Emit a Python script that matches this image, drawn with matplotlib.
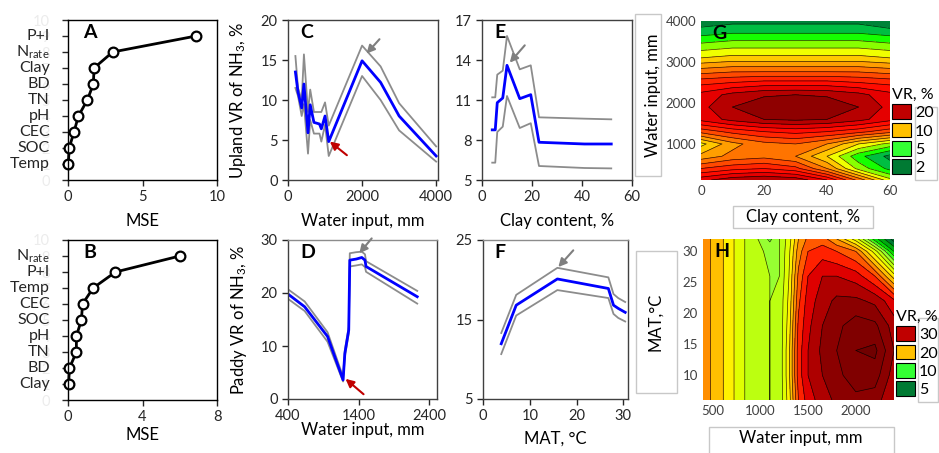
import numpy as np
import matplotlib
matplotlib.use('Agg')
import matplotlib.pyplot as plt
from matplotlib.colors import LinearSegmentedColormap, Normalize
from matplotlib.patches import Patch, Rectangle

plt.rcParams['font.family'] = ['Lato', 'DejaVu Sans']
plt.rcParams['mathtext.fontset'] = 'custom'
plt.rcParams['mathtext.rm'] = 'Lato'
plt.rcParams['mathtext.it'] = 'Lato:italic'

# ---- data ----
# A / B: variable importance (top to bottom)
a_labels = ['P+I', r'N$_{\mathrm{rate}}$', 'Clay', 'BD', 'TN', 'pH', 'CEC', 'SOC', 'Temp']
a_mse = [8.6, 3.0, 1.75, 1.7, 1.3, 0.7, 0.4, 0.08, 0.02]
b_labels = [r'N$_{\mathrm{rate}}$', 'P+I', 'Temp', 'CEC', 'SOC', 'pH', 'TN', 'BD', 'Clay']
b_mse = [6.0, 2.55, 1.35, 0.78, 0.72, 0.45, 0.45, 0.08, 0.03]

# C: upland VR vs water input
c_x = [200, 270, 370, 430, 540, 600, 700, 850, 900, 1000, 1100, 2000, 2500, 3000, 4000]
c_mid = [13.5, 11.0, 9.0, 12.0, 5.9, 9.4, 7.2, 7.0, 6.4, 8.0, 4.8, 14.9, 12.2, 8.0, 3.0]
c_hi = [15.5, 11.5, 10.0, 15.7, 8.5, 11.3, 8.5, 8.5, 8.5, 9.7, 6.8, 16.8, 14.2, 9.6, 4.2]
c_lo = [11.5, 10.5, 8.0, 9.5, 3.3, 7.5, 5.8, 5.8, 4.8, 6.9, 3.0, 13.0, 10.0, 6.2, 2.3]

# D: paddy VR vs water input
d_x = [400, 636, 960, 1180, 1205, 1260, 1275, 1365, 1445, 1490, 1505, 2230]
d_mid = [19.8, 17.4, 11.8, 3.6, 8.6, 13.0, 26.2, 26.4, 26.7, 26.2, 25.0, 19.3]
d_hi = [20.7, 18.4, 12.6, 4.2, 9.2, 13.6, 27.5, 27.7, 27.8, 27.3, 26.0, 20.4]
d_lo = [18.9, 16.6, 10.8, 3.3, 8.0, 12.4, 25.0, 25.2, 25.4, 24.9, 24.0, 18.0]

# E: upland VR vs clay content
e_x = [4.1, 5.3, 6.1, 8.3, 10.0, 15.1, 19.5, 22.8, 41.0, 51.7]
e_mid = [8.76, 8.76, 10.8, 11.15, 13.6, 11.1, 11.4, 7.83, 7.7, 7.7]
e_hi = [11.2, 11.2, 12.9, 13.2, 15.8, 13.3, 13.6, 9.7, 9.6, 9.55]
e_lo = [6.3, 6.3, 8.6, 9.0, 11.3, 8.9, 9.26, 6.05, 5.9, 5.87]

# F: paddy VR vs MAT
f_x = [3.9, 7.1, 15.9, 26.8, 27.9, 28.9, 30.4]
f_mid = [11.95, 16.8, 20.1, 18.9, 16.8, 16.4, 15.9]
f_hi = [13.3, 18.1, 21.5, 20.3, 18.2, 17.7, 17.2]
f_lo = [10.65, 15.5, 18.7, 17.7, 15.7, 15.2, 14.75]

# arrows (start, end)
c_red_arrow = [(1590, 3.1), (1130, 4.8)]
c_grey_arrow = [(2470, 17.6), (2120, 15.8)]
d_red_arrow = [(1470, 0.9), (1215, 3.8)]
d_grey_arrow = [(1585, 30.3), (1410, 27.5)]
e_grey_arrow = [(17.1, 15.1), (11.1, 13.8)]
f_grey_arrow = [(19.3, 23.7), (16.1, 21.6)]

# G: upland VR surface (rows water, cols clay)
g_clay = [0, 10, 20, 30, 40, 50, 60]
g_water = [120, 400, 700, 1000, 1300, 1600, 1900, 2200, 2500, 2800, 3100, 3400, 3700, 4000]
g_vr = [
    [19.0, 20.5, 21.0, 20.5, 18.0, 13.0, 8.0],
    [15.0, 16.0, 16.5, 15.5, 12.0, 7.0, 4.0],
    [11.0, 12.5, 13.0, 12.0, 9.0, 5.0, 2.5],
    [8.5, 11.5, 13.0, 13.5, 12.0, 9.0, 7.0],
    [14.0, 15.5, 16.5, 17.0, 16.5, 15.5, 14.0],
    [18.5, 20.0, 21.0, 21.3, 21.0, 20.0, 18.5],
    [19.0, 21.0, 22.0, 22.5, 22.0, 21.0, 19.0],
    [18.5, 20.0, 20.8, 21.0, 20.8, 20.0, 18.5],
    [16.0, 16.5, 17.0, 17.0, 17.0, 16.5, 16.0],
    [12.5, 13.0, 13.0, 13.0, 13.0, 13.0, 12.5],
    [9.0, 9.5, 9.5, 9.5, 9.5, 9.5, 9.0],
    [6.5, 7.0, 7.0, 7.0, 7.0, 7.0, 6.5],
    [4.0, 4.5, 4.5, 4.5, 4.5, 4.5, 4.0],
    [2.0, 2.5, 2.5, 2.5, 2.5, 2.5, 1.5],
]

# H: paddy VR surface (rows MAT, cols water)
h_water = [400, 500, 650, 800, 950, 1100, 1200, 1300, 1400, 1500, 1650, 1800, 2000, 2200, 2400]
h_mat = [6, 10, 14, 18, 22, 26, 30, 32]
h_vr = [
    [24, 21.5, 19.5, 16.5, 14.5, 14.0, 14.5, 19.0, 26.0, 29.0, 31.0, 32.5, 33.5, 33.0, 30.0],
    [24, 21.5, 19.5, 16.5, 14.5, 14.0, 14.5, 19.5, 27.0, 30.0, 32.0, 33.5, 35.0, 35.0, 31.0],
    [24, 21.5, 19.5, 16.5, 14.5, 14.0, 14.5, 19.5, 27.0, 30.0, 32.5, 34.0, 36.0, 36.5, 32.0],
    [24, 21.5, 19.5, 16.5, 14.5, 14.0, 14.5, 19.0, 26.5, 29.5, 32.0, 33.5, 35.0, 34.5, 31.0],
    [24, 21.5, 19.5, 16.5, 14.5, 14.0, 14.5, 18.5, 25.5, 29.0, 31.0, 32.5, 32.5, 31.5, 28.5],
    [24, 21.5, 19.5, 16.5, 14.5, 14.0, 14.0, 18.0, 24.5, 28.0, 30.0, 30.0, 29.0, 26.0, 19.0],
    [24, 21.5, 19.5, 16.5, 14.5, 13.6, 14.0, 17.5, 23.0, 26.0, 27.0, 26.0, 24.0, 17.0, 8.0],
    [24, 21.5, 19.5, 16.5, 14.5, 11.5, 14.0, 17.0, 22.0, 24.5, 25.0, 22.0, 17.0, 9.0, 3.0],
]

g_legend_vals = ['20', '10', '5', '2']
g_legend_cols = ['#C00000', '#FFC000', '#33FF33', '#007A33']
h_legend_vals = ['30', '20', '10', '5']
h_legend_cols = ['#C00000', '#FFC000', '#33FF33', '#007A33']

# ---- layout helpers (pixel boxes) ----
W, H = 939, 453
fig = plt.figure(figsize=(W / 100, H / 100), dpi=100)


def box(l, t, r, b):
    return [l / W, 1 - b / H, (r - l) / W, (b - t) / H]


def frame(ax, col='#404040', top=None):
    for s in ax.spines.values():
        s.set_color(col)
        s.set_linewidth(1.0)
    if top:
        ax.spines['top'].set_color(top)
    ax.tick_params(direction='out', length=4, width=1, labelsize=10.5, colors='#262626')


def letter(ax, s, x):
    ax.text(x, 0.975, s, transform=ax.transAxes, fontsize=14, fontweight='bold', va='top', ha='left')


def arrow(ax, pts, col):
    ax.annotate('', xy=pts[1], xytext=pts[0],
                arrowprops=dict(arrowstyle='-|>', color=col, lw=1.5, mutation_scale=12,
                                shrinkA=0, shrinkB=0), annotation_clip=False)


def rank_panel(rect, labels, mse, xmax, xt, name, ly):
    ax = fig.add_axes(box(*rect))
    pos = list(range(len(labels), 0, -1))
    ax.plot(mse, pos, '-o', color='black', lw=2, ms=7, mfc='white', mec='black', mew=1.6, clip_on=False)
    ax.set_xlim(0, xmax)
    ax.set_ylim(0, 10)
    ax.set_xticks(xt)
    ax.set_yticks(range(11))
    frame(ax, 'black')
    # faint numeric ticks behind the category names
    ax.tick_params(axis='y', pad=9, labelcolor='#ECECEC')
    for lab, p in zip(labels, pos):
        ax.annotate(lab, xy=(0, p), xycoords=('axes fraction', 'data'), xytext=(-13, 0),
                    textcoords='offset points', ha='right', va='center', fontsize=11.5, color='#262626')
    ax.set_xlabel('MSE', fontsize=12)
    ax.xaxis.set_label_coords(0.5, ly)
    letter(ax, name, 0.1)
    return ax


# A, B
rank_panel((68, 20, 217, 180), a_labels, a_mse, 10, [0, 5, 10], 'A', -0.205)
rank_panel((68, 240, 217, 400), b_labels, b_mse, 8, [0, 4, 8], 'B', -0.17)


def band_panel(rect, x, mid, lo, hi, xlim, ylim, xt, yt, name, xlabel, ylabel, ly, top=None):
    ax = fig.add_axes(box(*rect))
    ax.plot(x, hi, color='#8C8C8C', lw=1.3)
    ax.plot(x, lo, color='#8C8C8C', lw=1.3)
    ax.plot(x, mid, color='#0000FF', lw=2)
    ax.set_xlim(*xlim)
    ax.set_ylim(*ylim)
    ax.set_xticks(xt)
    ax.set_yticks(yt)
    frame(ax, top=top)
    ax.set_xlabel(xlabel, fontsize=12)
    ax.xaxis.set_label_coords(0.5, ly)
    if ylabel:
        ax.set_ylabel(ylabel, fontsize=12)
        ax.yaxis.set_label_coords(-0.265, 0.5)
    letter(ax, name, 0.08)
    return ax


ax_c = band_panel((288, 20, 438, 180), c_x, c_mid, c_lo, c_hi, (0, 4050), (0, 20),
                  [0, 2000, 4000], [0, 5, 10, 15, 20], 'C', 'Water input, mm',
                  r'Upland VR of NH$_3$, %', -0.205)
arrow(ax_c, c_red_arrow, '#C00000')
arrow(ax_c, c_grey_arrow, '#7F7F7F')

ax_d = band_panel((288, 240, 437, 399), d_x, d_mid, d_lo, d_hi, (400, 2510), (0, 30),
                  [400, 1400, 2400], [0, 10, 20, 30], 'D', 'Water input, mm',
                  r'Paddy VR of NH$_3$, %', -0.145, top='#8C8C8C')
arrow(ax_d, d_red_arrow, '#C00000')
arrow(ax_d, d_grey_arrow, '#7F7F7F')

ax_e = band_panel((482, 20, 632, 180), e_x, e_mid, e_lo, e_hi, (0, 60), (5, 17),
                  [0, 20, 40, 60], [5, 8, 11, 14, 17], 'E', 'Clay content, %', None, -0.205)
arrow(ax_e, e_grey_arrow, '#7F7F7F')

ax_f = band_panel((483, 240, 628, 399), f_x, f_mid, f_lo, f_hi, (0, 31), (5, 25),
                  [0, 10, 20, 30], [5, 15, 25], 'F', 'MAT, °C', None, -0.2, top='#8C8C8C')
arrow(ax_f, f_grey_arrow, '#7F7F7F')


def value_cmap(anchors, vmin, vmax):
    pts = [((v - vmin) / (vmax - vmin), c) for v, c in anchors]
    return LinearSegmentedColormap.from_list('vr', pts)


g_cmap = value_cmap([(0, '#005A1E'), (2, '#007A33'), (3.5, '#00B050'), (5, '#00FF00'),
                     (7, '#99FF00'), (8.5, '#FFFF00'), (10, '#FFC000'), (12, '#FF8C00'),
                     (14, '#FF5000'), (16, '#FF2000'), (18, '#FF0000'), (20, '#C00000'),
                     (22, '#8B0000'), (24, '#700000')], 0, 24)
h_cmap = value_cmap([(0, '#005A1E'), (5, '#007A33'), (8, '#00C000'), (10, '#00FF00'),
                     (13, '#99FF33'), (16, '#CCFF00'), (18.5, '#FFFF00'), (21, '#FFC000'),
                     (23.5, '#FF8000'), (26, '#FF4000'), (28, '#FF0000'), (30, '#C00000'),
                     (33, '#8B0000'), (38, '#700000')], 0, 38)


def surface(rect, x, y, z, cmap, vmax, levels, xt, yt, xlim, ylim, name):
    ax = fig.add_axes(box(*rect))
    z = np.array(z)
    norm = Normalize(0, vmax)
    ax.contourf(x, y, z, levels=levels, cmap=cmap, norm=norm, extend='both')
    ax.contour(x, y, z, levels=levels, colors='black', linewidths=0.5, alpha=0.8)
    ax.set_xlim(*xlim)
    ax.set_ylim(*ylim)
    ax.set_xticks(xt)
    ax.set_yticks(yt)
    for s in ax.spines.values():
        s.set_visible(False)
    ax.tick_params(length=0, labelsize=9.5, colors='#404040')
    letter(ax, name, 0.06)
    return ax


ax_g = surface((701, 21, 890, 180), g_clay, g_water, g_vr, g_cmap, 24, np.arange(1.5, 24, 1.5),
               [0, 20, 40, 60], [1000, 2000, 3000, 4000], (0, 60), (120, 4000), 'G')
ax_h = surface((703, 239, 894, 400), h_water, h_mat, h_vr, h_cmap, 38, np.arange(2, 38, 2),
               [500, 1000, 1500, 2000], [10, 15, 20, 25, 30], (400, 2400), (6, 32), 'H')

# boxed axis labels for G / H
for (l, t, r, b) in [(635, 14, 661, 176), (733, 206, 873, 228), (636, 251, 677, 393), (709, 427, 894, 455),
                     (915, 107, 937, 180), (918, 318, 938, 402)]:
    fig.patches.append(Rectangle((l / W, 1 - b / H), (r - l) / W, (b - t) / H, transform=fig.transFigure,
                                 fill=False, edgecolor='#C8C8C8', lw=1))
fig.text(653 / W, 1 - 95 / H, 'Water input, mm', rotation=90, ha='center', va='center', fontsize=12)
fig.text(803 / W, 1 - 217 / H, 'Clay content, %', ha='center', va='center', fontsize=12)
fig.text(655 / W, 1 - 322 / H, 'MAT,°C', rotation=90, ha='center', va='center', fontsize=12)
fig.text(801 / W, 1 - 438 / H, 'Water input, mm', ha='center', va='center', fontsize=12)

# legends
for vals, cols, (x0, y0) in [(g_legend_vals, g_legend_cols, (892, 88)), (h_legend_vals, h_legend_cols, (896, 310))]:
    handles = [Patch(facecolor=c, edgecolor='black', lw=0.8) for c in cols]
    fig.legend(handles, vals, loc='upper left', bbox_to_anchor=(x0 / W, 1 - y0 / H), frameon=False,
               title='VR, %', title_fontsize=11.5, fontsize=11.5, alignment='left',
               handlelength=1.2, handleheight=1.05, handletextpad=0.25, labelspacing=0.15,
               borderpad=0, borderaxespad=0)

fig.savefig('out.png', dpi=100)
